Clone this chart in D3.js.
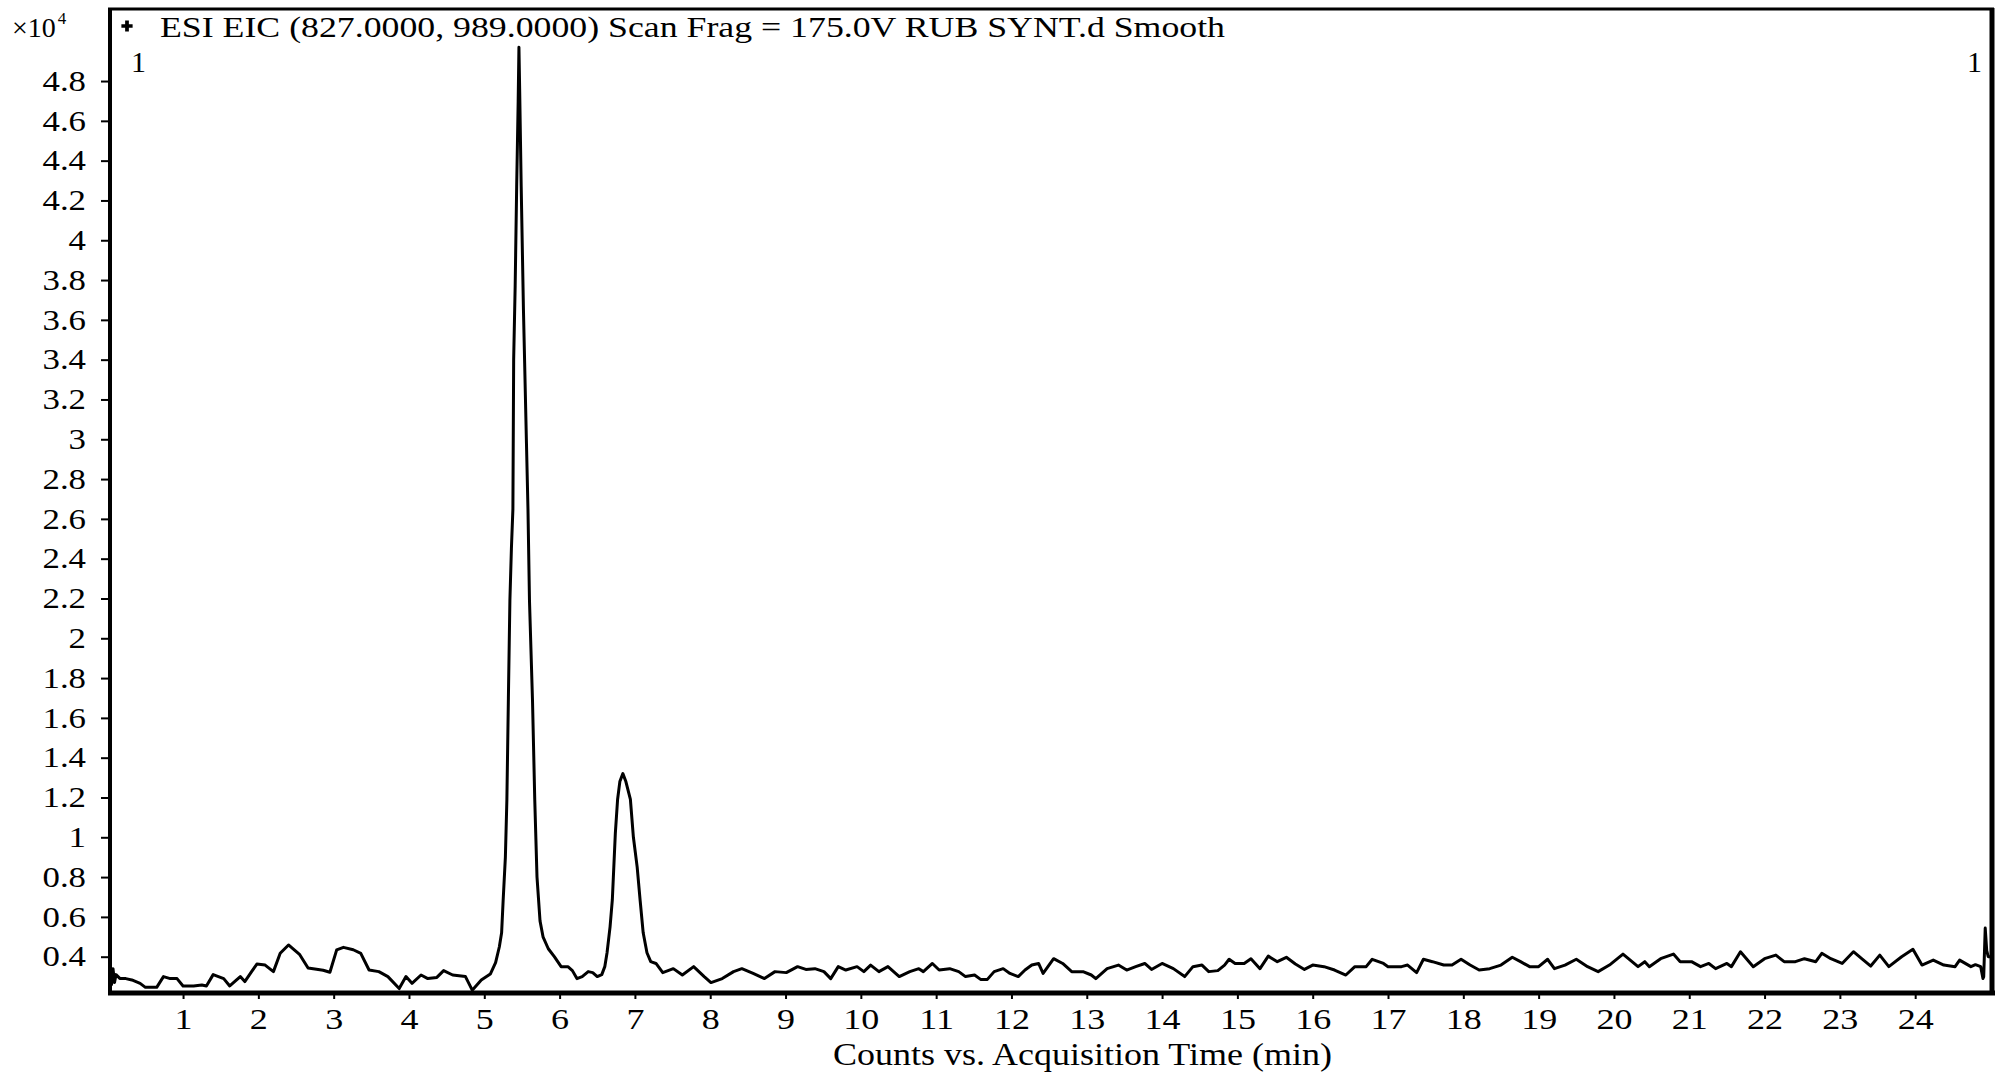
<!DOCTYPE html>
<html><head><meta charset="utf-8">
<script src="https://cdn.jsdelivr.net/npm/d3@7"></script>
<style>
body{margin:0;background:#fff}
svg{display:block}
text{font-family:"Liberation Serif","Times New Roman",serif;fill:#000}
</style>
</head><body>
<svg id="c" width="1999" height="1074"></svg>
<script>
// Retention time (min)
const times = [
0.03,0.05,0.07,0.09,0.11,0.16,0.24,0.32,0.43,0.50,0.65,0.74,0.83,0.92,1.00,1.14,1.25,1.31,1.40,1.54,1.62,1.76,1.82,1.91,1.98,2.09,2.20,2.29,2.40,2.55,2.66,2.75,2.86,2.95,3.04,3.13,3.26,3.36,3.47,3.60,3.72,3.87,3.96,4.04,4.16,4.25,4.37,4.46,4.58,4.75,4.84,4.96,5.08,5.15,
5.20,5.23,5.25,5.28,5.30,5.32,5.34,5.36,5.38,5.39,5.41,5.43,5.45,5.46,5.47,5.49,5.52,5.56,5.58,5.60,5.64,5.67,5.70,5.74,5.78,5.85,5.93,6.02,6.11,6.17,6.23,6.30,6.38,6.44,6.50,6.56,6.60,6.63,6.67,6.70,6.74,6.77,6.80,6.84,6.88,6.94,6.98,7.03,7.07,7.11,7.16,7.21,
7.28,7.37,7.51,7.63,7.78,7.92,8.01,8.16,8.31,8.42,8.57,8.72,8.86,9.01,9.16,9.27,9.39,9.51,9.60,9.70,9.80,9.95,10.04,10.13,10.24,10.36,10.51,10.65,10.77,10.83,10.95,11.04,11.18,11.30,11.39,11.51,11.59,11.68,11.77,11.89,11.98,12.09,12.18,12.27,12.36,12.42,12.56,12.68,12.80,12.95,13.06,13.12,13.27,13.42,13.53,13.65,13.77,13.86,14.00,14.15,14.30,14.41,14.53,14.62,14.74,14.83,14.89,14.97,15.09,15.18,15.30,15.41,15.53,15.65,15.77,15.89,16.00,16.15,
16.29,16.44,16.56,16.71,16.79,16.94,17.00,17.18,17.26,17.38,17.47,17.59,17.74,17.85,17.97,18.09,18.21,18.35,18.50,18.65,18.76,18.88,19.00,19.12,19.21,19.35,19.50,19.65,19.79,19.94,20.12,20.32,20.41,20.47,20.62,20.79,20.88,21.03,21.15,21.26,21.35,21.50,21.56,21.68,21.85,22.00,22.15,22.26,22.41,22.53,22.68,22.76,22.88,23.03,23.18,23.29,23.41,23.53,23.65,23.82,23.97,24.09,24.24,24.38,24.53,24.59,24.74,24.80,24.87,24.90,24.91,24.93,24.95,24.97,25.00
];
// Counts (x10^4)
const counts = [
0.33,0.26,0.34,0.27,0.31,0.291,0.29,0.283,0.266,0.246,0.246,0.30,0.29,0.29,0.253,0.253,0.258,0.253,0.31,0.29,0.253,0.30,0.275,0.325,0.363,0.358,0.325,0.417,0.459,0.41,0.343,0.338,0.332,0.322,0.434,0.447,0.435,0.417,0.333,0.325,0.30,0.24,0.30,0.266,0.308,0.29,0.296,0.33,0.308,0.30,0.232,0.283,0.313,0.37,
0.45,0.52,0.68,0.90,1.19,1.70,2.19,2.45,2.65,3.40,3.77,4.27,4.70,4.97,4.75,4.27,3.65,2.98,2.65,2.19,1.69,1.19,0.80,0.58,0.50,0.44,0.40,0.35,0.35,0.33,0.29,0.30,0.325,0.32,0.30,0.31,0.35,0.42,0.55,0.685,1.02,1.19,1.28,1.32,1.28,1.19,1.00,0.85,0.68,0.52,0.42,0.375,
0.366,0.32,0.34,0.308,0.35,0.30,0.27,0.29,0.325,0.34,0.316,0.29,0.325,0.32,0.35,0.336,0.34,0.325,0.29,0.35,0.333,0.35,0.325,0.358,0.325,0.35,0.30,0.325,0.34,0.325,0.366,0.333,0.34,0.325,0.30,0.308,0.286,0.286,0.325,0.34,0.316,0.30,0.333,0.358,0.366,0.316,0.39,0.366,0.325,0.325,0.308,0.29,0.34,0.358,0.333,0.35,0.366,0.336,0.366,0.34,0.30,0.35,0.358,0.325,0.33,0.358,0.387,0.366,0.366,0.39,0.34,0.403,0.375,0.397,0.363,0.336,0.358,0.35,
0.333,0.308,0.35,0.35,0.387,0.366,0.35,0.35,0.358,0.32,0.387,0.375,0.358,0.358,0.387,0.358,0.333,0.34,0.358,0.397,0.375,0.35,0.35,0.387,0.34,0.358,0.387,0.35,0.325,0.358,0.413,0.35,0.375,0.35,0.39,0.413,0.375,0.375,0.35,0.366,0.34,0.366,0.35,0.425,0.35,0.39,0.408,0.375,0.375,0.39,0.375,0.417,0.39,0.366,0.425,0.39,0.353,0.408,0.35,0.40,0.437,0.358,0.383,0.358,0.35,0.383,0.35,0.36,0.35,0.29,0.30,0.544,0.43,0.40,0.40
];
const xTickValues = [1,2,3,4,5,6,7,8,9,10,11,12,13,14,15,16,17,18,19,20,21,22,23,24];
const yTickValues = [0.4,0.6,0.8,1,1.2,1.4,1.6,1.8,2,2.2,2.4,2.6,2.8,3,3.2,3.4,3.6,3.8,4,4.2,4.4,4.6,4.8];
const titleText = "ESI EIC (827.0000, 989.0000) Scan Frag = 175.0V RUB SYNT.d Smooth";
const xTitleText = "Counts vs. Acquisition Time (min)";
const peakLabel = "1";

const svg = d3.select("#c");
const L = 110, R = 1992, T = 9, B = 993;
const x = d3.scaleLinear().domain([0.03, 25.02]).range([L, R]);
const y = d3.scaleLinear().domain([0.2176, 5.162]).range([B, T]);

svg.append("clipPath").attr("id","pc").append("rect")
  .attr("x", L).attr("y", T).attr("width", R - L).attr("height", B - T);

const stretch = 1.2;
function widen(sel){
  sel.each(function(){
    const w = this.getComputedTextLength();
    d3.select(this).attr("textLength", w*stretch).attr("lengthAdjust","spacingAndGlyphs");
  });
}

// X axis
const gx = svg.append("g").attr("transform", `translate(0,${B})`)
  .call(d3.axisBottom(x).tickValues(xTickValues).tickSize(6).tickPadding(9).tickFormat(d3.format("d")));
gx.select(".domain").remove();
gx.selectAll(".tick line").attr("stroke","#000").attr("stroke-width",2);
gx.selectAll(".tick text").attr("font-size",30).attr("font-family","Liberation Serif").call(widen);

// Y axis
const gy = svg.append("g").attr("transform", `translate(${L},0)`)
  .call(d3.axisLeft(y).tickValues(yTickValues).tickSize(9).tickPadding(15).tickFormat(d => String(+d.toFixed(1))));
gy.select(".domain").remove();
gy.selectAll(".tick line").attr("stroke","#000").attr("stroke-width",2);
gy.selectAll(".tick text").attr("font-size",29).attr("font-family","Liberation Serif").call(widen);

// Trace
const idx = d3.range(times.length);
const line = d3.line().x(i => x(times[i])).y(i => y(counts[i]));
svg.append("path").datum(idx).attr("clip-path","url(#pc)")
  .attr("d", line).attr("fill","none").attr("stroke","#000")
  .attr("stroke-width",3).attr("stroke-linejoin","round");

// Frame
const fr = svg.append("g").attr("stroke","#000").attr("fill","none");
fr.append("line").attr("x1",L-2).attr("x2",R+2).attr("y1",T).attr("y2",T).attr("stroke-width",3);
fr.append("line").attr("x1",L).attr("x2",L).attr("y1",T-1).attr("y2",B+2).attr("stroke-width",4);
fr.append("line").attr("x1",L-2).attr("x2",R+3).attr("y1",B).attr("y2",B).attr("stroke-width",5);
fr.append("line").attr("x1",R).attr("x2",R).attr("y1",T-1).attr("y2",B+2).attr("stroke-width",5);

// Exponent label
const ex = svg.append("text").attr("x",12).attr("y",37).attr("font-size",28);
ex.append("tspan").text("×10");
ex.append("tspan").attr("font-size",17).attr("dy",-13).attr("dx",2).text("4");

// Title marker + title
svg.append("path").attr("d", d3.symbol(d3.symbolCross, 70)())
  .attr("transform","translate(127,26)").attr("fill","#000");
svg.append("text").attr("x",160).attr("y",37).attr("font-size",29)
  .attr("textLength",1065).attr("lengthAdjust","spacingAndGlyphs").text(titleText);

// Scan labels
svg.append("text").attr("x",131).attr("y",72).attr("font-size",30).text(peakLabel);
svg.append("text").attr("x",1967).attr("y",72).attr("font-size",30).text(peakLabel);

// X axis title
svg.append("text").attr("x",833).attr("y",1065).attr("font-size",31)
  .attr("textLength",499).attr("lengthAdjust","spacingAndGlyphs").text(xTitleText);
</script>
</body></html>
